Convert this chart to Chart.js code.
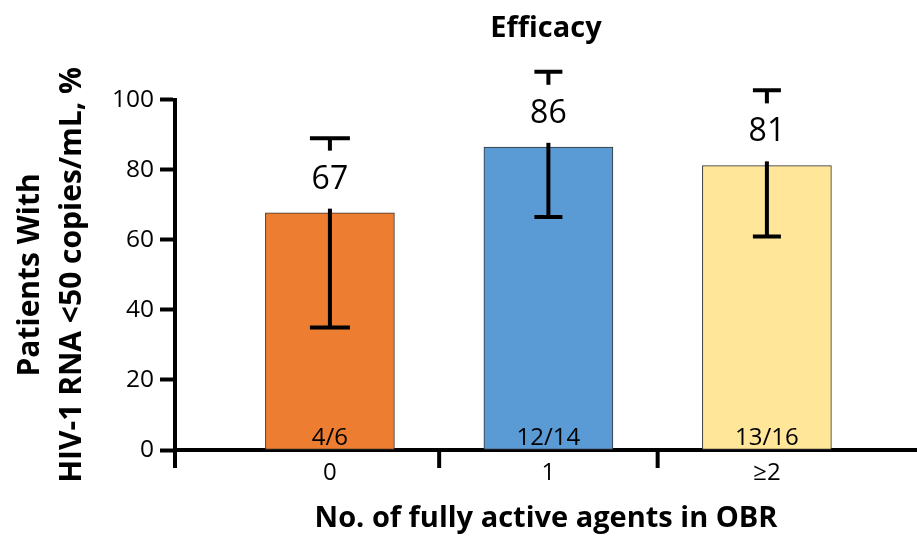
<!DOCTYPE html>
<html>
<head>
<meta charset="utf-8">
<script src="https://cdn.jsdelivr.net/npm/chart.js@4.4.1/dist/chart.umd.min.js"></script>
<style>
html,body{margin:0;padding:0;background:#fff;}
#wrap{width:917px;height:536px;position:relative;}
</style>
</head>
<body>
<div id="wrap"><canvas id="c" width="917" height="536"></canvas></div>
<script>
// ---- data ----
const categories = ['0', '1', '\u22652'];
const values = [67.7, 86.5, 81.2];
const errLow = [35, 66.5, 61];
const errHigh = [89, 108, 102.7];
const valueLabels = ['67', '86', '81'];
const fractions = ['4/6', '12/14', '13/16'];
const yTicks = [0, 20, 40, 60, 80, 100];
const xTickMarks = [0.5, 1.5];
const barColors = ['#ED7D31', '#5B9BD5', '#FFE699'];
const capWidths = [40, 28, 28];

const FONT = "'Open Sans', 'Noto Sans', sans-serif";

const errorBarPlugin = {
  id: 'errorBars',
  afterDatasetsDraw(chart) {
    const ctx = chart.ctx;
    const xs = chart.scales.x, ys = chart.scales.y;
    ctx.save();
    // x-axis tick marks
    ctx.strokeStyle = '#000';
    ctx.lineWidth = 4;
    const bottom = chart.chartArea.bottom;
    const marks = [xs.left].concat(xTickMarks.map(v => xs.getPixelForValue(v)));
    marks.forEach(mx => {
      ctx.beginPath(); ctx.moveTo(mx, bottom); ctx.lineTo(mx, bottom + 18); ctx.stroke();
    });
    values.forEach((v, i) => {
      const x = xs.getPixelForValue(i);
      const yl = ys.getPixelForValue(errLow[i]);
      const yh = ys.getPixelForValue(errHigh[i]);
      const cw = capWidths[i] / 2;
      ctx.strokeStyle = '#000';
      ctx.lineWidth = 4;
      ctx.beginPath();
      ctx.moveTo(x, yl); ctx.lineTo(x, yh);
      ctx.moveTo(x - cw, yl); ctx.lineTo(x + cw, yl);
      ctx.moveTo(x - cw, yh); ctx.lineTo(x + cw, yh);
      ctx.stroke();
      // value label with white box
      const yc = ys.getPixelForValue(v + 9.5);
      ctx.fillStyle = '#fff';
      ctx.fillRect(x - 30, yc - 29, 60, 58);
      ctx.fillStyle = '#000';
      ctx.font = "32px " + FONT;
      ctx.textAlign = 'center';
      ctx.textBaseline = 'middle';
      ctx.fillText(valueLabels[i], x, yc);
      // fraction label inside bar
      ctx.font = "24px " + FONT;
      ctx.textBaseline = 'alphabetic';
      ctx.fillText(fractions[i], x, ys.getPixelForValue(0) - 5);
    });
    ctx.restore();
  }
};

new Chart(document.getElementById('c'), {
  type: 'bar',
  data: {
    datasets: [{
      data: values.map((v, i) => ({ x: i, y: v })),
      backgroundColor: barColors,
      borderColor: '#333',
      borderWidth: 1,
      borderSkipped: false,
      barThickness: 129,
      clip: false
    }]
  },
  options: {
    responsive: false,
    animation: false,
    layout: { padding: { left: 9, right: 0, top: 11, bottom: 0 } },
    plugins: {
      legend: { display: false },
      tooltip: { enabled: false },
      title: {
        display: true,
        fullSize: false,
        text: 'Efficacy',
        color: '#000',
        font: { family: FONT, size: 29, weight: 'bold', lineHeight: 1.2 },
        padding: { top: 0, bottom: 54 }
      }
    },
    scales: {
      x: {
        type: 'linear',
        offset: false,
        min: -0.709,
        max: 2.687,
        afterBuildTicks(scale) { scale.ticks = [0, 1, 2].map(v => ({ value: v })); },
        afterFit(scale) { scale.height = 86; },
        grid: { display: false, drawTicks: false },
        border: { display: true, color: '#000', width: 4 },
        ticks: {
          color: '#000',
          font: { family: FONT, size: 24 },
          padding: 9,
          autoSkip: false,
          maxRotation: 0,
          callback: (v) => categories[v]
        },
        title: {
          display: true,
          text: 'No. of fully active agents in OBR',
          color: '#000',
          font: { family: FONT, size: 29, weight: 'bold', lineHeight: 1.2 },
          padding: { top: 0, bottom: 0 }
        }
      },
      y: {
        min: 0,
        max: 100,
        afterBuildTicks(scale) { scale.ticks = yTicks.map(v => ({ value: v })); },
        afterFit(scale) { scale.width = 166; },
        grid: { drawOnChartArea: false, drawTicks: true, tickLength: 15, tickWidth: 4, tickColor: '#000' },
        border: { display: true, color: '#000', width: 4 },
        ticks: {
          color: '#000',
          font: { family: FONT, size: 24.5 },
          padding: 6
        },
        title: {
          display: true,
          text: ['Patients With', 'HIV-1 RNA <50 copies/mL, %'],
          color: '#000',
          font: { family: FONT, size: 30, weight: 'bold', lineHeight: 1.4 },
          padding: { top: 0, bottom: 0 }
        }
      }
    }
  },
  plugins: [errorBarPlugin]
});
</script>
</body>
</html>
